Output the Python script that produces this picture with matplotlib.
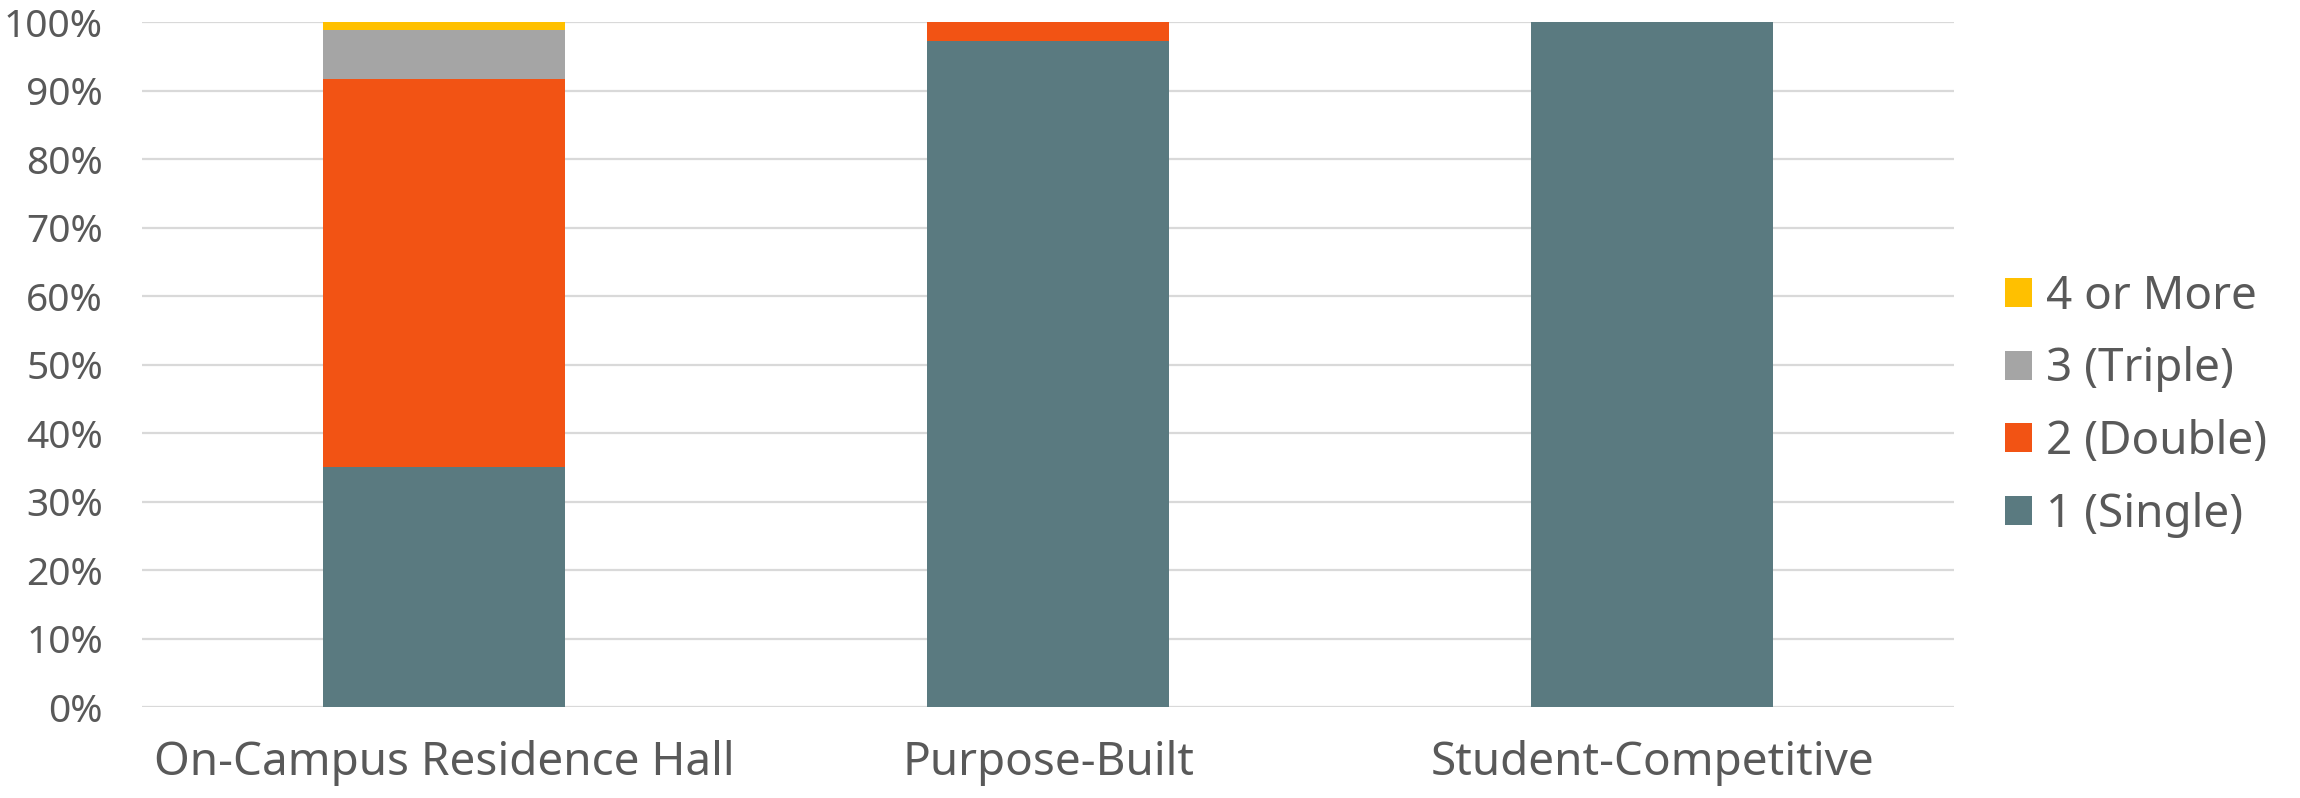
import numpy as np
import matplotlib.pyplot as plt
from matplotlib.ticker import PercentFormatter

categories = ["On-Campus Residence Hall", "Purpose-Built", "Student-Competitive"]
series = ["1 (Single)", "2 (Double)", "3 (Triple)", "4 or More"]
single = [35.0, 97.3, 100.0]
double = [56.7, 2.7, 0.0]
triple = [7.2, 0.0, 0.0]
four_plus = [1.1, 0.0, 0.0]
colours = ["#5A7A80", "#F25314", "#A5A5A5", "#FFC000"]

text_col = "#595959"
plt.rcParams['font.family'] = ['Noto Sans', 'DejaVu Sans']

fig = plt.figure(figsize=(23, 7.98), dpi=100)
ax = fig.add_axes([0.0617, 0.114, 0.788, 0.8584])

x = np.arange(len(categories))
bottom = np.zeros(len(categories))
handles = []
for vals, name, c in zip([single, double, triple, four_plus], series, colours):
    b = ax.bar(x, vals, 0.4, bottom=bottom, color=c, label=name, zorder=3)
    handles.append(b)
    bottom += np.array(vals)

ax.set_xlim(-0.5, 2.5)
ax.set_ylim(0, 100)
ax.set_yticks(np.arange(0, 101, 10))
ax.yaxis.set_major_formatter(PercentFormatter(decimals=0))
ax.set_xticks(x)
ax.set_xticklabels(categories)
ax.grid(axis='y', color='#D9D9D9', linewidth=1.6, zorder=0)
ax.set_axisbelow(True)
for s in ax.spines.values():
    s.set_visible(False)
ax.tick_params(axis='y', length=0, pad=28, labelsize=28, labelcolor=text_col)
ax.tick_params(axis='x', length=0, pad=24, labelsize=33, labelcolor=text_col)

leg = ax.legend(handles[::-1], series[::-1], loc='center left',
                bbox_to_anchor=(1.005, 0.44), frameon=False, fontsize=33,
                handlelength=0.6, handleheight=0.6, handletextpad=0.3,
                labelspacing=0.58, labelcolor=text_col)

fig.savefig("out.png", dpi=100)
